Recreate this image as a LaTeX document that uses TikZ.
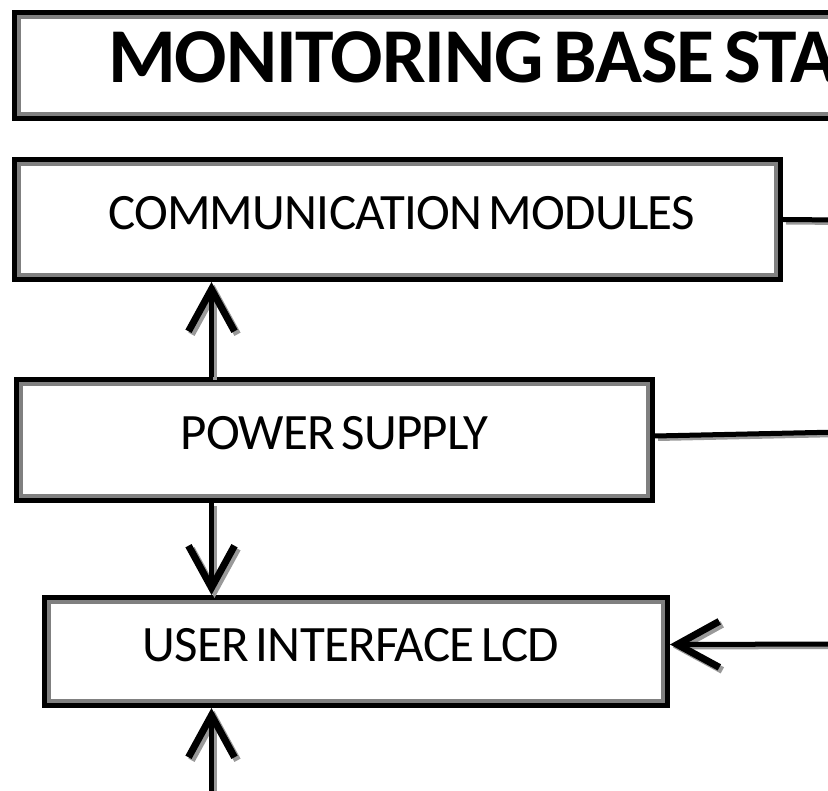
\documentclass[tikz,border=0pt]{standalone}
\usepackage{fontspec}
\setmainfont[LetterSpace=-1.5, WordSpace=0.6]{Carlito}
\usetikzlibrary{arrows.meta}
\begin{document}
\begin{tikzpicture}[x=1pt,y=-1pt,
  blockbox/.style={draw=black, line width=5pt, fill=white, inner sep=0pt,
    font=\fontsize{51}{53}\selectfont, text depth=14pt},
  innerframe/.style={draw=black!50, line width=3.5pt},
  conn/.style={line width=5pt,
    preaction={draw=black!40, line width=4pt,
      transform canvas={shift={(3pt,-3pt)}}}},
  barb/.style={-{Straight Barb[length=42pt,width=46pt,line width=7pt]}}]
  \useasboundingbox (0,0) rectangle (828,791);
  \clip (0,0) rectangle (828,791);

  % blocks
  \node[blockbox, minimum width=1500, minimum height=106] (titlebox) at (764.5,65.5) {};
  \node[blockbox, minimum width=766, minimum height=120] (comm) at (397.5,219.5) {\hspace*{8pt}COMMUNICATION MODULES};
  \node[blockbox, minimum width=636, minimum height=121] (ps) at (334.5,440) {POWER SUPPLY};
  \node[blockbox, minimum width=623, minimum height=108] (lcd) at (356,651.5) {USER INTERFACE LCD\hspace*{10pt}};
  \foreach \b in {titlebox,comm,ps,lcd}
    \draw[innerframe] ([shift={(7,7)}]\b.north west) rectangle ([shift={(-7,-7)}]\b.south east);
  \node[anchor=base west, inner sep=0pt, font=\fontsize{77.6}{80}\selectfont\bfseries]
    (title) at (108,83) {MONITORING BASE STATION};

  % connector end points
  \coordinate (busx) at (211.5,0);
  \coordinate (commR) at (840,220);
  \coordinate (psR) at (840,432);
  \coordinate (lcdR) at (840,644);
  \coordinate (lcdB) at (211.5,800);

  % connectors
  \draw[conn] (comm.east) -- (commR);
  \draw[conn] ([yshift=4pt]ps.east) -- (psR);
  \draw[conn, barb] (ps.north -| busx) -- (comm.south -| busx);
  \draw[conn, barb] (ps.south -| busx) -- (lcd.north -| busx);
  \draw[conn, barb] (lcdB) -- (lcd.south -| busx);
  \draw[conn, barb] (lcdR) -- ([yshift=7pt]lcd.east);
\end{tikzpicture}
\end{document}
